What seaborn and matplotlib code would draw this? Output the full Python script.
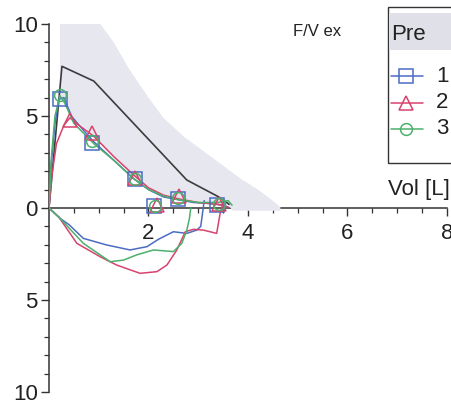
import numpy as np
import pandas as pd
import matplotlib
matplotlib.use("Agg")
import matplotlib.pyplot as plt
from matplotlib.lines import Line2D
from matplotlib.patches import Rectangle
import seaborn as sns

# ---- data -------------------------------------------------------------
trials = ["1", "2", "3"]

# expiratory limbs (volume [L], flow [L/s])
exp_vol_1 = [0.0, 0.05, 0.12, 0.20, 0.30, 0.45, 0.70, 0.90, 1.30, 1.70, 2.00, 2.30, 2.60, 2.90, 3.20, 3.50, 3.60]
exp_flow_1 = [0.0, 2.5, 4.6, 5.9, 6.0, 5.0, 4.2, 3.6, 2.6, 1.6, 1.0, 0.6, 0.45, 0.3, 0.25, 0.15, 0.05]
exp_vol_2 = [0.0, 0.06, 0.15, 0.30, 0.42, 0.60, 0.90, 1.30, 1.70, 2.00, 2.30, 2.60, 3.00, 3.40, 3.60]
exp_flow_2 = [0.0, 1.8, 3.5, 4.5, 4.9, 4.5, 3.9, 2.8, 1.8, 1.1, 0.7, 0.5, 0.3, 0.2, 0.05]
exp_vol_3 = [0.0, 0.04, 0.12, 0.22, 0.30, 0.50, 0.90, 1.30, 1.70, 2.00, 2.30, 2.60, 3.00, 3.40, 3.60, 3.68]
exp_flow_3 = [0.0, 2.5, 5.0, 6.1, 5.8, 4.6, 3.5, 2.6, 1.6, 1.0, 0.65, 0.45, 0.3, 0.3, 0.4, 0.15]

# inspiratory limbs
insp_vol_1 = [3.12, 3.05, 2.97, 2.77, 2.50, 2.20, 1.97, 1.63, 1.16, 0.69, 0.40, 0.22, 0.0]
insp_flow_1 = [0.4, -1.0, -1.2, -1.38, -1.29, -1.7, -2.1, -2.28, -2.01, -1.65, -0.9, -0.56, 0.0]
insp_vol_2 = [3.50, 3.44, 3.37, 3.10, 2.90, 2.74, 2.57, 2.37, 2.17, 1.83, 1.36, 1.03, 0.56, 0.2, 0.0]
insp_flow_2 = [0.3, -0.29, -1.38, -1.2, -1.16, -1.29, -2.28, -3.1, -3.46, -3.55, -3.1, -2.65, -1.92, -0.5, 0.0]
insp_vol_3 = [2.85, 2.82, 2.77, 2.67, 2.50, 2.10, 1.76, 1.50, 1.23, 0.69, 0.2, 0.0]
insp_flow_3 = [0.0, -0.6, -1.2, -1.92, -2.37, -2.28, -2.55, -2.83, -2.92, -1.92, -0.5, 0.0]

# landmark markers on each trial
mark_vol_1 = [0.22, 0.86, 1.72, 2.12, 2.60, 3.38]
mark_flow_1 = [5.95, 3.55, 1.6, 0.1, 0.5, 0.15]
mark_vol_2 = [0.42, 0.86, 1.72, 2.17, 2.62, 3.42]
mark_flow_2 = [4.8, 4.1, 1.65, 0.15, 0.65, 0.2]
mark_vol_3 = [0.22, 0.86, 1.72, 2.14, 2.60, 3.42]
mark_flow_3 = [6.15, 3.65, 1.55, 0.1, 0.55, 0.2]

# predicted curve and normal range
pred_vol = [0.0, 0.26, 0.90, 2.77, 3.40, 3.62]
pred_flow = [0.0, 7.7, 6.9, 1.52, 0.62, 0.2]
range_upper_vol = [0.22, 0.90, 1.30, 1.60, 2.00, 2.30, 2.70, 3.10, 3.50, 3.85, 4.20, 4.45, 4.65]
range_upper_flow = [10.5, 10.5, 9.0, 7.6, 6.0, 4.9, 3.9, 3.1, 2.3, 1.6, 1.0, 0.5, 0.05]
range_lower_vol = [4.65, 3.70, 3.60, 2.60, 2.20, 1.70, 0.90, 0.40, 0.22]
range_lower_flow = [-0.15, -0.15, 0.15, 0.5, 0.8, 1.7, 3.8, 5.2, 6.0]

x_ticks = [2, 4, 6, 8]
y_ticks = [-10, -5, 0, 5, 10]
y_tick_labels = ["10", "5", "0", "5", "10"]

# ---- tidy frames -------------------------------------------------------
rows = []
for t, ev, ef, iv, iff in [
    ("1", exp_vol_1, exp_flow_1, insp_vol_1, insp_flow_1),
    ("2", exp_vol_2, exp_flow_2, insp_vol_2, insp_flow_2),
    ("3", exp_vol_3, exp_flow_3, insp_vol_3, insp_flow_3),
]:
    for k, (v, f) in enumerate(zip(ev, ef)):
        rows.append(dict(trial=t, seg=t + "e", order=k, vol=v, flow=f))
    for k, (v, f) in enumerate(zip(iv, iff)):
        rows.append(dict(trial=t, seg=t + "i", order=k, vol=v, flow=f))
curves = pd.DataFrame(rows)

mrows = []
for t, mv, mf in [("1", mark_vol_1, mark_flow_1), ("2", mark_vol_2, mark_flow_2),
                  ("3", mark_vol_3, mark_flow_3)]:
    for v, f in zip(mv, mf):
        mrows.append(dict(trial=t, vol=v, flow=f))
marks = pd.DataFrame(mrows)

pred = pd.DataFrame(dict(vol=pred_vol, flow=pred_flow, seg="pred"))

palette = {"1": "#4b6cc4", "2": "#d8436e", "3": "#4bb06c"}
marker_map = {"1": "s", "2": "^", "3": "o"}
marker_size = {"1": 10.5, "2": 10.5, "3": 8.5}

# ---- figure ------------------------------------------------------------
sns.set_theme(style="white")
plt.rcParams["font.family"] = ["Liberation Sans", "DejaVu Sans"]

W, H = 452, 404
fig = plt.figure(figsize=(W / 100, H / 100), dpi=100)
fig.patch.set_facecolor("white")

x0, x8 = 49, 447          # pixel positions of vol 0 and 8
ytop, ybot = 24, 392      # pixel positions of flow +10 and -10
ax = fig.add_axes([x0 / W, 1 - ybot / H, (x8 - x0) / W, (ybot - ytop) / H])
ax.set_xlim(0, 8)
ax.set_ylim(-10, 10)
ax.set_facecolor("none")

# normal range
poly_v = range_upper_vol + range_lower_vol
poly_f = range_upper_flow + range_lower_flow
ax.fill(poly_v, poly_f, color="#e7e7f0", lw=0, zorder=2.6, clip_on=True)

# predicted curve
sns.lineplot(data=pred, x="vol", y="flow", sort=False, estimator=None,
             color="#3c3c3c", lw=1.2, ax=ax, zorder=3, legend=False)

# trial loops
sns.lineplot(data=curves, x="vol", y="flow", hue="trial", units="seg",
             estimator=None, sort=False, palette=palette, lw=1.1,
             ax=ax, zorder=4, legend=False)

# landmark markers
for t in trials:
    sub = marks[marks.trial == t]
    ax.plot(sub.vol, sub.flow, ls="none", marker=marker_map[t],
            ms=marker_size[t], mfc="none", mec=palette[t], mew=1.1, zorder=5)

# axes styling
for s in ["top", "right"]:
    ax.spines[s].set_visible(False)
ax.spines["bottom"].set_position(("data", 0))
ax.spines["left"].set_position(("data", 0))
for s in ["left", "bottom"]:
    ax.spines[s].set_color("#333333")
    ax.spines[s].set_linewidth(1.1)

ax.set_xticks(x_ticks)
ax.set_xticks(np.arange(0.5, 8.01, 0.5), minor=True)
ax.set_yticks(y_ticks)
ax.set_yticklabels(y_tick_labels)
ax.set_yticks(np.arange(-10, 10.01, 1), minor=True)
ax.tick_params(axis="both", which="both", bottom=True, left=True,
               top=False, right=False)
ax.tick_params(axis="both", which="major", direction="out", length=6,
               width=1.0, color="#333333", labelsize=16, labelcolor="#222222")
ax.tick_params(axis="both", which="minor", direction="out", length=3.5,
               width=0.9, color="#333333")
ax.tick_params(axis="x", which="major", pad=5)
ax.tick_params(axis="y", which="major", pad=2)
ax.set_xlabel("")
ax.set_ylabel("")


def px(x, y):
    return x / W, 1 - y / H


fig.text(*px(317, 31), "F/V ex", ha="center", va="center", fontsize=12,
         color="#222222")

# legend box
bx, by, bw, bh = 388, 7, 100, 156
fig.add_artist(Rectangle(px(bx, by + bh), bw / W, bh / H, transform=fig.transFigure,
                         facecolor="white", edgecolor="#333333", lw=1.0, zorder=6))
fig.add_artist(Rectangle(px(bx + 1, 50), (bw - 2) / W, 37 / H, transform=fig.transFigure,
                         facecolor="#e0e0e8", edgecolor="none", zorder=6.5))
fig.text(*px(391, 35), "Pre", ha="left", va="center", fontsize=16, color="#222222", zorder=7)
for t, yy in zip(trials, [76, 103, 129]):
    fig.add_artist(Line2D([391 / W, 423 / W], [1 - yy / H] * 2, transform=fig.transFigure,
                          color=palette[t], lw=1.1, zorder=7))
    fig.add_artist(Line2D([406 / W], [1 - yy / H], transform=fig.transFigure,
                          marker=marker_map[t], ms=marker_size[t], mfc="none",
                          mec=palette[t], mew=1.1, ls="none", zorder=7))
    fig.text(*px(436, yy), t, ha="left", va="center", fontsize=16, color="#222222", zorder=7)

fig.text(*px(388, 189), "Vol [L]", ha="left", va="center", fontsize=16, color="#222222")

fig.savefig("out.png", dpi=100)
